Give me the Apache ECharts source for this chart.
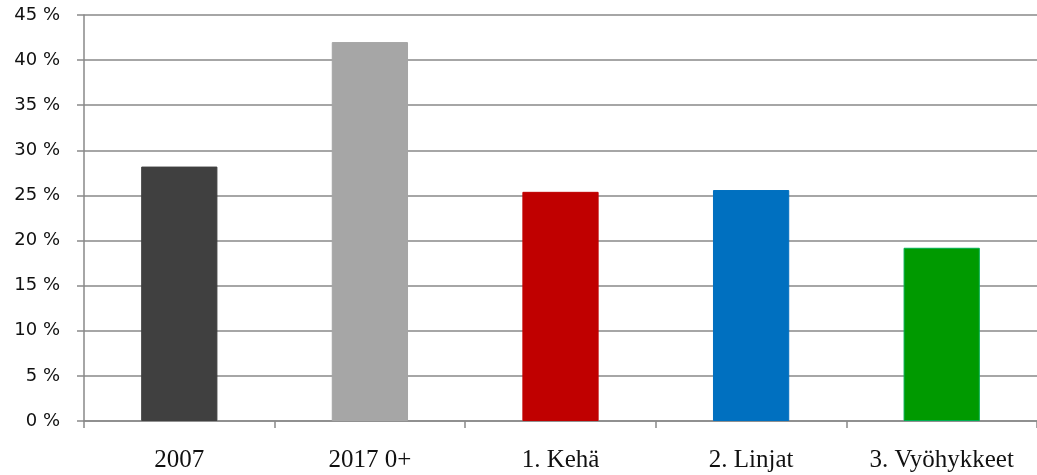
<!DOCTYPE html>
<html>
<head>
<meta charset="utf-8">
<script src="https://cdn.jsdelivr.net/npm/echarts@6/dist/echarts.min.js"></script>
<style>
  html, body { margin: 0; padding: 0; background: #fff; }
  #chart { width: 1037px; height: 475px; }
</style>
</head>
<body>
<div id="chart"></div>
<script>
// kategoriat ja arvot (%)
const categories = ['2007', '2017 0+', '1. Kehä', '2. Linjat', '3. Vyöhykkeet'];
const values = [28.2, 42.0, 25.4, 25.6, 19.2];
const barColors = ['#404040', '#A6A6A6', '#C00000', '#0070C0', '#009A00'];
const barBorders = ['#404040', '#A6A6A6', '#C00000', '#0070C0', '#00B050'];

const lineColor = '#898989';

const chart = echarts.init(document.getElementById('chart'));

const option = {
    animation: false,
    grid: { left: 84, right: 0, top: 15, bottom: 54 },
    xAxis: {
        type: 'category',
        data: categories,
        axisLine: { lineStyle: { color: lineColor, width: 1.5 } },
        axisTick: { show: true, length: 7, lineStyle: { color: lineColor, width: 1.5 } },
        axisLabel: {
            interval: 0,
            hideOverlap: false,
            color: '#111',
            fontFamily: 'Liberation Serif, serif',
            fontSize: 25,
            margin: 27
        }
    },
    yAxis: {
        type: 'value',
        min: 0,
        max: 45,
        interval: 5,
        axisLine: { show: true, lineStyle: { color: lineColor, width: 1.5 } },
        axisTick: { show: true, length: 7, lineStyle: { color: lineColor, width: 1.5 } },
        splitLine: { lineStyle: { color: lineColor, width: 1.5 } },
        axisLabel: {
            color: '#111',
            fontFamily: 'DejaVu Sans, sans-serif',
            fontSize: 18,
            margin: 24,
            padding: [5, 0, 0, 0],
            formatter: v => v + ' %'
        }
    },
    series: [{
        type: 'bar',
        barWidth: '40%',
        data: values.map((v, i) => ({
            value: v,
            itemStyle: { color: barColors[i], borderColor: barBorders[i], borderWidth: 1 }
        }))
    }]
};

chart.setOption(option);
</script>
</body>
</html>
